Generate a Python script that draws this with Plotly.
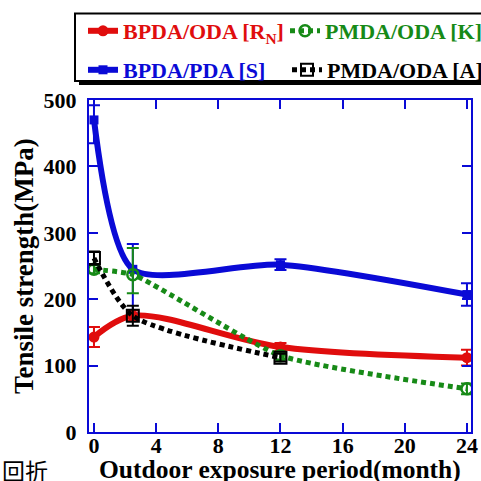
import plotly.graph_objects as go

# ---- data ----
months = [0, 2.5, 12, 24]
months_a = [0, 2.5, 12]

rn_vals = [143, 175, 128, 112]          # BPDA/ODA [RN]
rn_err = [15, 8, 6, 12]

s_vals = [470, 245, 252, 207]           # BPDA/PDA [S]
s_err_plus = [22, 38, 8, 17]
s_err_minus = [35, 66, 8, 17]

k_vals = [245, 237, 115, 65]            # PMDA/ODA [K]
k_err_plus = [6, 40, 6, 8]
k_err_minus = [6, 28, 6, 8]

a_vals = [262, 175, 112]                # PMDA/ODA [A]
a_err = [10, 15, 6]

x_ticks = [0, 4, 8, 12, 16, 20, 24]
y_ticks = [0, 100, 200, 300, 400, 500]

name_rn = "BPDA/ODA [R<sub>N</sub>]"
name_s = "BPDA/PDA [S]"
name_k = "PMDA/ODA [K]"
name_a = "PMDA/ODA [A]"
x_title = "Outdoor exposure period(month)"
y_title = "Tensile strength(MPa)"

RED = "#e00d0d"
BLUE = "#0a0ad6"
GREEN = "#178a17"
BLACK = "#000000"
FONT = "Liberation Serif"

# pixel helpers (plot area: x 89..471, y 100..432)
L, T, W, H = 89, 100, 382, 332
SIZE = 481
def px(x):
    return (x - L) / W
def py(y):
    return (T + H - y) / H

fig = go.Figure()

fig.add_trace(go.Scatter(
    x=months, y=s_vals, name=name_s, mode="lines+markers",
    line=dict(color=BLUE, width=6, shape="spline", smoothing=0.7),
    marker=dict(symbol="square", size=9, color=BLUE),
    error_y=dict(type="data", array=s_err_plus, arrayminus=s_err_minus,
                 color=BLUE, thickness=2, width=6),
    legend="legend3"))

fig.add_trace(go.Scatter(
    x=months, y=rn_vals, name=name_rn, mode="lines+markers",
    line=dict(color=RED, width=6, shape="spline", smoothing=0.9),
    marker=dict(symbol="circle", size=11, color=RED),
    error_y=dict(type="data", array=rn_err, color=RED, thickness=2, width=6),
    legend="legend"))

fig.add_trace(go.Scatter(
    x=months, y=k_vals, name=name_k, mode="lines+markers",
    line=dict(color=GREEN, width=5, shape="spline", smoothing=0.5, dash="5px,4px"),
    marker=dict(symbol="circle-open", size=11, color=GREEN, line=dict(width=2.5, color=GREEN)),
    error_y=dict(type="data", array=k_err_plus, arrayminus=k_err_minus,
                 color=GREEN, thickness=2, width=6),
    legend="legend2"))

fig.add_trace(go.Scatter(
    x=months_a, y=a_vals, name=name_a, mode="lines+markers",
    line=dict(color=BLACK, width=5, shape="spline", smoothing=0.7, dash="5px,4px"),
    marker=dict(symbol="square-open", size=12, color=BLACK, line=dict(width=2, color=BLACK)),
    error_y=dict(type="data", array=a_err, color=BLACK, thickness=2, width=6),
    legend="legend4"))

def leg(x_left, y_mid, color):
    return dict(x=x_left / SIZE, y=1 - y_mid / SIZE, xref="container", yref="container",
                xanchor="left", yanchor="middle",
                bgcolor="rgba(0,0,0,0)", borderwidth=0,
                font=dict(family=FONT, size=22, color=color, weight="bold"))

axis_common = dict(
    showline=True, linecolor=BLUE, linewidth=2, mirror="ticks",
    ticks="inside", ticklen=9, tickwidth=2, tickcolor=BLUE,
    showgrid=False, zeroline=False, automargin=False,
    tickfont=dict(family=FONT, size=22, color=BLACK, weight="bold"),
)

fig.update_layout(
    width=SIZE, height=SIZE,
    margin=dict(l=L, r=SIZE - L - W, t=T, b=SIZE - T - H, pad=0, autoexpand=False),
    paper_bgcolor="white", plot_bgcolor="white",
    font=dict(family=FONT, color=BLACK, weight="bold"),
    xaxis=dict(range=[-0.32, 24.26], tickvals=x_ticks, ticktext=[str(v) for v in x_ticks],
               ticklabelstandoff=-7, **axis_common),
    yaxis=dict(range=[0, 500], tickvals=y_ticks, ticktext=[str(v) for v in y_ticks],
               ticklabelstandoff=6, **axis_common),
    legend=leg(83, 31, RED),
    legend2=leg(285, 31, GREEN),
    legend3=leg(83, 70, BLUE),
    legend4=leg(287, 70, BLACK),
    showlegend=True,
    shapes=[
        dict(type="rect", xref="paper", yref="paper",
             x0=px(79), x1=px(504), y0=py(17.5), y1=py(85),
             fillcolor=BLACK, line=dict(width=0), layer="above"),
        dict(type="rect", xref="paper", yref="paper",
             x0=px(75), x1=px(500), y0=py(13.5), y1=py(81),
             fillcolor="white", line=dict(width=2, color=BLACK), layer="above"),
    ],
    annotations=[
        dict(text=x_title, xref="paper", yref="paper", x=px(280), y=py(469),
             xanchor="center", yanchor="middle", showarrow=False,
             font=dict(family=FONT, size=25.5, color=BLACK, weight="bold")),
        dict(text=y_title, xref="paper", yref="paper", x=px(24), y=py(266),
             xanchor="center", yanchor="middle", showarrow=False, textangle=-90,
             font=dict(family=FONT, size=27, color=BLACK, weight="bold")),
        dict(text="回折", xref="paper", yref="paper", x=px(0), y=py(470),
             xanchor="left", yanchor="middle", showarrow=False,
             font=dict(family="Noto Sans CJK SC", size=23, color=BLACK, weight="normal")),
    ],
)

fig.write_html("out.html", config={"displayModeBar": False},
               post_script="document.body.style.margin='0';")
